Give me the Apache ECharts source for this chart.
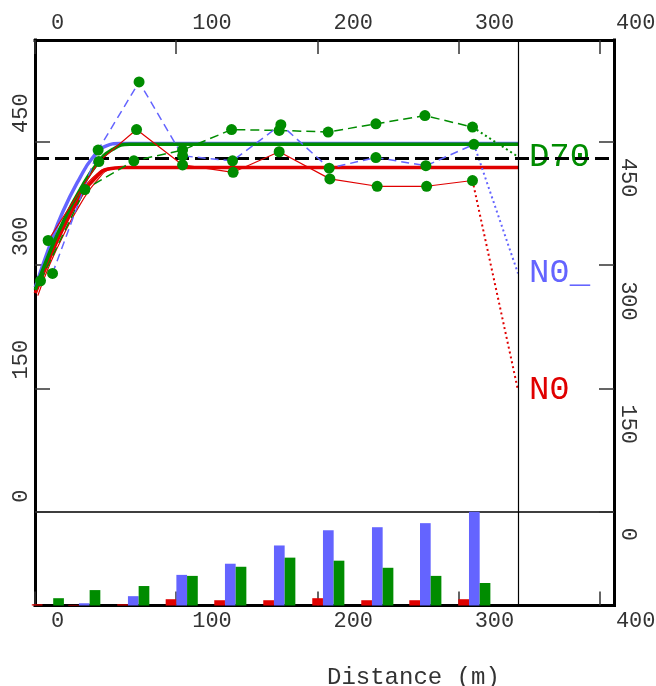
<!DOCTYPE html>
<html>
<head>
<meta charset="utf-8">
<script src="https://cdn.jsdelivr.net/npm/echarts@6/dist/echarts.min.js"></script>
<style>
html,body{margin:0;padding:0;background:#fff}
#chart{width:656px;height:686px}
</style>
</head>
<body>
<div id="chart"></div>
<script>
// Experimental semivariogram points: lag distance (m) and semivariance
const d70Dist  = [3.9, 35.3, 70.0, 104.5, 139.2, 172.9, 207.6, 241.4, 276.1, 309.8];
const d70Gamma = [281, 392, 427, 440, 465, 464, 462, 472, 482, 468];
const n0uDist  = [12.4, 44.7, 73.7, 104.5, 139.9, 174.1, 208.3, 241.4, 276.8, 310.8];
const n0uGamma = [290, 440, 523, 433, 427, 471, 418, 431, 421, 447];
const n0Dist   = [9.3, 45.2, 71.9, 104.5, 140.3, 172.9, 208.8, 242.3, 277.3, 309.8];
const n0Gamma  = [330, 426, 465, 422, 413, 438, 405, 396, 396, 403];

// Values at the cutoff distance
const cutoffDistance = 342;
const d70EndGamma = 432;
const n0uEndGamma = 290;
const n0EndGamma  = 148;

// Total variance (sill)
const sillLevel = 430.5;

// Fitted models
const d70FitDist    = [0.2, 10.5, 19.7, 31.7, 43.8, 55.1, 67.1, 342];
const d70FitGamma   = [270, 316, 352, 391, 423, 441, 447, 447];
const n0uFitDist    = [0.2, 10.5, 19.7, 31.7, 40.9, 50.1, 60.1, 342];
const n0uFitGamma   = [273, 324, 365, 406, 431, 445, 448, 448];
const n0FitDist     = [0.2, 10.5, 19.7, 31.7, 43.8, 51.6, 62.2, 342];
const n0FitGamma    = [266, 309, 344, 382, 408, 417, 419, 419];
const n0AltFitDist  = [0.2, 10.5, 19.7, 31.7, 43.8, 53.0, 63.6, 342];
const n0AltFitGamma = [270, 316, 350, 386, 411, 418, 419, 419];
const n0LowFitDist  = [2.0, 10.5, 19.7, 31.7, 43.8, 54.4, 65.7, 342];
const n0LowFitGamma = [263, 301, 335, 373, 403, 417, 419, 419];

// Number of pairs per lag
const lagCenters = [9.1, 34.9, 69.6, 103.9, 138.3, 173.0, 207.7, 242.4, 276.4, 311.1];
const n0Pairs    = [12, 6, 12, 62, 52, 52, 72, 52, 52, 62];
const n0uPairs   = [0, 22, 92, 302, 412, 592, 742, 772, 812, 925];
const d70Pairs   = [72, 152, 192, 292, 382, 472, 442, 372, 292, 222];

// Tick labels
const xTickLabels = [0, 100, 200, 300, 400];
const yTickLabels = [0, 150, 300, 450];

const GREEN = '#008c00';
const BLUE = '#6464ff';
const RED = '#e00000';
const FONT = 'Liberation Mono';

const zip = (xs, ys) => xs.map((x, i) => [x, ys[i]]);
const lastPair = (xs, ys) => [xs[xs.length - 1], ys[ys.length - 1]];

const frameLine = { show: true, onZero: false, lineStyle: { color: '#000', width: 3, cap: 'square' } };
const tickStyle = { color: '#333', width: 1.5 };
const labelFont = { fontFamily: FONT, fontSize: 22, color: '#333' };
const xFmt = v => (xTickLabels.includes(v) ? String(v) : '');
const yFmt = v => (yTickLabels.includes(v) ? String(v) : '');

const xTop = {
  gridIndex: 0, type: 'value', position: 'top', min: 0, max: 410, interval: 100,
  axisLine: frameLine,
  axisTick: { show: true, inside: true, length: 14, lineStyle: tickStyle },
  axisLabel: Object.assign({ align: 'left', verticalAlign: 'bottom', padding: [0, 0, 0, 16], margin: 6,
    showMaxLabel: false, formatter: xFmt }, labelFont),
  splitLine: { show: false }
};
const xBottom = {
  gridIndex: 1, type: 'value', position: 'bottom', min: 0, max: 410, interval: 100,
  axisLine: frameLine,
  axisTick: { show: true, inside: true, length: 14, lineStyle: tickStyle },
  axisLabel: Object.assign({ align: 'left', verticalAlign: 'top', padding: [0, 0, 0, 16], margin: 5,
    showMaxLabel: false, formatter: xFmt }, labelFont),
  splitLine: { show: false }
};
const xDivider = {
  gridIndex: 1, type: 'value', position: 'top', min: 0, max: 410,
  axisLine: { show: true, onZero: false, lineStyle: { color: '#000', width: 1.5 } },
  axisTick: { show: false }, axisLabel: { show: false }, splitLine: { show: false }
};

const yLeft = {
  gridIndex: 0, type: 'value', position: 'left', min: 0, max: 574, interval: 150,
  axisLine: frameLine,
  axisTick: { show: true, inside: true, length: 15, lineStyle: tickStyle },
  axisLabel: Object.assign({ rotate: 90, align: 'left', verticalAlign: 'middle', padding: [0, 0, 0, 9],
    margin: 14, showMaxLabel: false, formatter: yFmt }, labelFont),
  splitLine: { show: false }
};
const yRight = {
  gridIndex: 0, type: 'value', position: 'right', min: 0, max: 574, interval: 150,
  axisLine: frameLine,
  axisTick: { show: true, inside: true, length: 15, lineStyle: tickStyle },
  axisLabel: Object.assign({ rotate: -90, align: 'left', verticalAlign: 'middle', padding: [0, 0, 0, 16],
    margin: 14, showMaxLabel: false, formatter: yFmt }, labelFont),
  splitLine: { show: false }
};
const yPairsLeft = {
  gridIndex: 1, type: 'value', position: 'left', min: 0, max: 925,
  axisLine: frameLine, axisTick: { show: false }, axisLabel: { show: false }, splitLine: { show: false }
};
const yPairsRight = {
  gridIndex: 1, type: 'value', position: 'right', min: 0, max: 925,
  axisLine: frameLine, axisTick: { show: false }, axisLabel: { show: false }, splitLine: { show: false }
};

const fitLine = (data, color, width) => ({
  type: 'line', xAxisIndex: 0, yAxisIndex: 0, data, smooth: 0.5,
  symbol: 'none', lineStyle: { color, width }, z: 3, silent: true
});

const obsLine = (data, color, dash, width) => ({
  type: 'line', xAxisIndex: 0, yAxisIndex: 0, data, symbol: 'circle', symbolSize: 11,
  itemStyle: { color: GREEN, borderWidth: 0 }, lineStyle: { color, width, type: dash }, z: 5, silent: true
});

const tailLine = (from, to, color, name) => ({
  type: 'line', xAxisIndex: 0, yAxisIndex: 0, data: [from, to], symbol: 'none',
  lineStyle: { color, width: 2, type: [2, 3] }, z: 4, silent: true,
  endLabel: { show: true, formatter: name, color, fontFamily: FONT, fontSize: 34, distance: 11 }
});

const bars = (data, color) => ({
  type: 'bar', xAxisIndex: 1, yAxisIndex: 2, data, barWidth: 10.7, barGap: '0%',
  itemStyle: { color }, silent: true
});

const option = {
  animation: false,
  backgroundColor: '#fff',
  title: {
    text: 'Distance (m)', left: 322, top: 661,
    textStyle: { fontFamily: FONT, fontSize: 24, fontWeight: 'normal', color: '#333' }
  },
  grid: [
    { left: 35, top: 40, width: 579, height: 471.7, containLabel: false, outerBoundsMode: 'none' },
    { left: 35, top: 511.7, width: 579, height: 93.8, containLabel: false, outerBoundsMode: 'none' }
  ],
  xAxis: [xTop, xBottom, xDivider],
  yAxis: [yLeft, yRight, yPairsLeft, yPairsRight],
  series: [
    fitLine(zip(n0AltFitDist, n0AltFitGamma), RED, 1.2),
    fitLine(zip(n0LowFitDist, n0LowFitGamma), RED, 1.2),
    fitLine(zip(n0FitDist, n0FitGamma), RED, 3.5),
    fitLine(zip(n0uFitDist, n0uFitGamma), BLUE, 3.5),
    fitLine(zip(d70FitDist, d70FitGamma), GREEN, 3.5),
    Object.assign(obsLine(zip(d70Dist, d70Gamma), GREEN, [9, 5], 1.5), {
      markLine: {
        silent: true, symbol: ['none', 'none'], label: { show: false },
        data: [
          { yAxis: sillLevel, lineStyle: { color: '#000', width: 3, type: [14, 6] } },
          { xAxis: cutoffDistance, lineStyle: { color: '#000', width: 1.2, type: 'solid' } }
        ]
      }
    }),
    obsLine(zip(n0uDist, n0uGamma), BLUE, [8, 5], 1.5),
    obsLine(zip(n0Dist, n0Gamma), RED, 'solid', 1.2),
    tailLine(lastPair(d70Dist, d70Gamma), [cutoffDistance, d70EndGamma], GREEN, 'D70'),
    tailLine(lastPair(n0uDist, n0uGamma), [cutoffDistance, n0uEndGamma], BLUE, 'N0_'),
    tailLine(lastPair(n0Dist, n0Gamma), [cutoffDistance, n0EndGamma], RED, 'N0'),
    bars(zip(lagCenters, n0Pairs), RED),
    Object.assign(bars(zip(lagCenters, n0uPairs), BLUE), {
      markLine: {
        silent: true, symbol: ['none', 'none'], label: { show: false },
        data: [{ xAxis: cutoffDistance, lineStyle: { color: '#000', width: 1.2, type: 'solid' } }]
      }
    }),
    bars(zip(lagCenters, d70Pairs), GREEN)
  ]
};

const chart = echarts.init(document.getElementById('chart'), null, { renderer: 'canvas' });
chart.setOption(option);
</script>
</body>
</html>
